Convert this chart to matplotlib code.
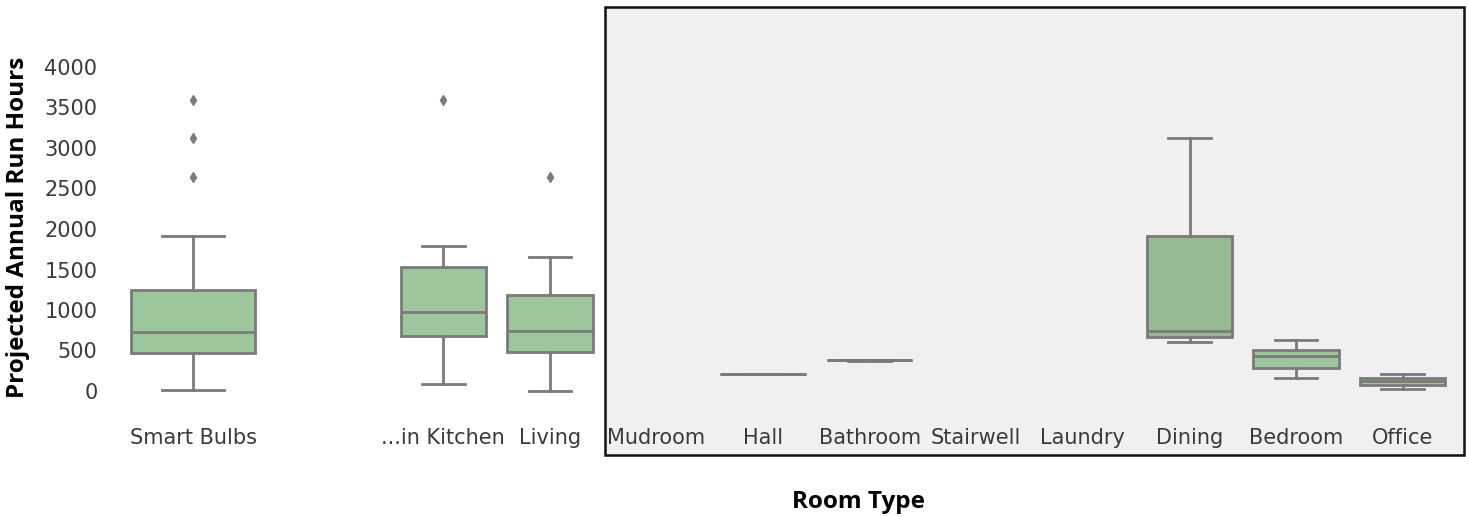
#!/usr/bin/env python3

# %% load libraries
import numpy as np
import matplotlib.pyplot as plt
from matplotlib.patches import Rectangle


# %% data

# box statistics, smart bulbs overall
bulb_label = ['Smart Bulbs']
bulb_lo = [10]
bulb_q1 = [470]
bulb_med = [728]
bulb_q3 = [1247]
bulb_hi = [1914]
bulb_fliers = [[2646, 3120, 3593]]

# box statistics by room (nan = no data for that room)
rooms = ['...in Kitchen', 'Living', 'Mudroom', 'Hall', 'Bathroom',
         'Stairwell', 'Laundry', 'Dining', 'Bedroom', 'Office']
room_lo = [82, 4, np.nan, 205, 365, np.nan, np.nan, 601, 156, 25]
room_q1 = [679, 477, np.nan, 205, 383, np.nan, np.nan, 671, 280, 75]
room_med = [971, 745, np.nan, 205, 383, np.nan, np.nan, 741, 432, 120]
room_q3 = [1535, 1185, np.nan, 205, 383, np.nan, np.nan, 1914, 506, 165]
room_hi = [1790, 1658, np.nan, 205, 383, np.nan, np.nan, 3128, 626, 205]
room_fliers = [[3593], [2646], [], [], [], [], [], [], [], []]

y_ticks = np.arange(0, 4001, 500)


# %% styling
fig_w, fig_h, dpi = 1469, 517, 100
line_c = '#7a7a7a'
fill_c = '#9ec69d'
dining_c = '#97b994'
text_c = '#3a3a3a'
lw = 2.0
y_lim = (-250, 4250)


def make_stats(lo, q1, med, q3, hi, fliers):
    stats, pos = [], []
    for i in range(len(lo)):
        if np.isnan(lo[i]):
            continue
        stats.append(dict(whislo=lo[i], q1=q1[i], med=med[i], q3=q3[i],
                          whishi=hi[i], fliers=fliers[i]))
        pos.append(i)
    return stats, pos


def draw_boxes(ax, stats, pos):
    out = ax.bxp(stats, positions=pos, widths=0.8, patch_artist=True,
                 manage_ticks=False,
                 boxprops=dict(facecolor=fill_c, edgecolor=line_c,
                               linewidth=lw),
                 whiskerprops=dict(color=line_c, linewidth=lw),
                 capprops=dict(color=line_c, linewidth=lw),
                 medianprops=dict(color=line_c, linewidth=lw),
                 flierprops=dict(marker='d', markerfacecolor=line_c,
                                 markeredgecolor=line_c, markersize=5))
    return out


# %% create figure
fig = plt.figure(figsize=(fig_w / dpi, fig_h / dpi), dpi=dpi)

# axes placement in pixels (left, right), shared vertical band
y_bot, y_top = 411.25, 46.75
fy0 = (fig_h - y_bot) / fig_h
fh = (y_bot - y_top) / fig_h
ax1 = fig.add_axes([115.5 / fig_w, fy0, 155 / fig_w, fh])
ax2 = fig.add_axes([390 / fig_w, fy0, 1066 / fig_w, fh])

# --+ grey panel behind the right-hand rooms
panel = Rectangle((605 / fig_w, (fig_h - 455) / fig_h), 859 / fig_w,
                  448 / fig_h, transform=fig.transFigure,
                  facecolor='#f0f0f0', edgecolor='#111111', linewidth=1.8,
                  zorder=-1)
fig.patches.append(panel)

# --+ smart bulbs box
s, p = make_stats(bulb_lo, bulb_q1, bulb_med, bulb_q3, bulb_hi, bulb_fliers)
draw_boxes(ax1, s, p)
ax1.set_xlim(-0.5, 0.5)
ax1.set_xticks([0])
ax1.set_xticklabels(bulb_label)
ax1.set_yticks(y_ticks)
ax1.set_yticklabels(['%d' % v for v in y_ticks])

# --+ room boxes
s, p = make_stats(room_lo, room_q1, room_med, room_q3, room_hi, room_fliers)
res = draw_boxes(ax2, s, p)
for box, i in zip(res['boxes'], p):
    if rooms[i] == 'Dining':
        box.set_facecolor(dining_c)
ax2.set_xlim(-0.5, len(rooms) - 0.5)
ax2.set_xticks(range(len(rooms)))
ax2.set_xticklabels(rooms)
ax2.set_yticks([])

# --+ axis properties
for ax in (ax1, ax2):
    ax.set_ylim(*y_lim)
    ax.set_facecolor('none')
    for sp in ax.spines.values():
        sp.set_visible(False)
    ax.tick_params(length=0, labelsize=15, colors=text_c, pad=12)
    for t in ax.get_xticklabels() + ax.get_yticklabels():
        t.set_family('DejaVu Sans')
ax1.tick_params(axis='y', pad=13)

# --+ axis titles
fig.text(18 / fig_w, (fig_h - 227) / fig_h, 'Projected Annual Run Hours',
         rotation=90, ha='center', va='center', fontsize=17.5,
         fontweight='bold', family='Open Sans', color='black')
fig.text(858 / fig_w, (fig_h - 502) / fig_h, 'Room Type',
         ha='center', va='center', fontsize=17.5, fontweight='bold',
         family='Open Sans', color='black')

# --+ save plot
plt.savefig('out.png', dpi=dpi)
